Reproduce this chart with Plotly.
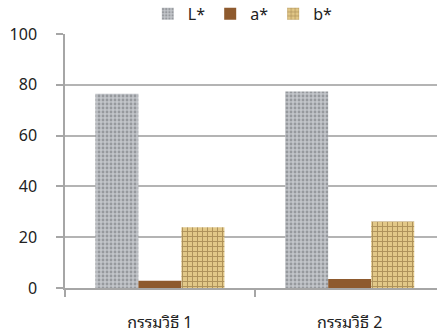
import plotly.graph_objects as go

categories = ["กรรมวิธี 1", "กรรมวิธี 2"]
series_names = ["L*", "a*", "b*"]
L_values = [76.5, 77.4]
a_values = [2.9, 3.5]
b_values = [23.9, 26.2]
y_ticks = [0, 20, 40, 60, 80, 100]

fig = go.Figure()
fig.add_trace(go.Bar(
    name=series_names[0], x=categories, y=L_values,
    marker=dict(color="#bcc0c4", line=dict(width=0),
                pattern=dict(shape=".", fgcolor="#6a6e72", bgcolor="#c2c5c9", size=4, solidity=0.4)),
))
fig.add_trace(go.Bar(
    name=series_names[1], x=categories, y=a_values,
    marker=dict(color="#8e5a2e", line=dict(width=0)),
))
fig.add_trace(go.Bar(
    name=series_names[2], x=categories, y=b_values,
    marker=dict(color="#dcc384", line=dict(width=0),
                pattern=dict(shape="+", fgcolor="#7a5a2c", bgcolor="#e2c888", size=5, solidity=0.35)),
))

fig.update_layout(
    width=437, height=335,
    margin=dict(l=65, r=0, t=34, b=47, autoexpand=False),
    paper_bgcolor="white", plot_bgcolor="white",
    barmode="group", bargap=0.32, bargroupgap=0,
    font=dict(family="Tahoma, 'Noto Sans', 'DejaVu Sans', sans-serif", size=16, color="#222222"),
    showlegend=True,
    legend=dict(orientation="h", x=0.478, xanchor="center", y=1.079, yanchor="middle",
                font=dict(size=16), traceorder="normal"),
)
fig.update_xaxes(
    range=[-0.5, 1.46], showline=True, linecolor="#a6a6a6", linewidth=1.5,
    ticks="outside", ticklen=7, tickcolor="#a6a6a6", tickwidth=1.5,
    tickson="boundaries", showgrid=False, fixedrange=True,
    ticklabelstandoff=19, automargin=False,
    tickfont=dict(family="'Noto Sans Thai Looped', Loma, Garuda, Tahoma, 'Noto Sans', sans-serif", size=16),
)
fig.update_yaxes(
    range=[0, 100], tickvals=y_ticks, showline=True, linecolor="#a6a6a6", linewidth=1.5,
    ticks="outside", ticklen=7, tickcolor="#a6a6a6", tickwidth=1.5,
    showgrid=True, gridcolor="#b4b4b4", gridwidth=1.5, zeroline=False,
    ticklabelstandoff=16, automargin=False,
)
fig.write_html("out.html", config={"displayModeBar": False},
               post_script="document.body.style.margin='0';")
